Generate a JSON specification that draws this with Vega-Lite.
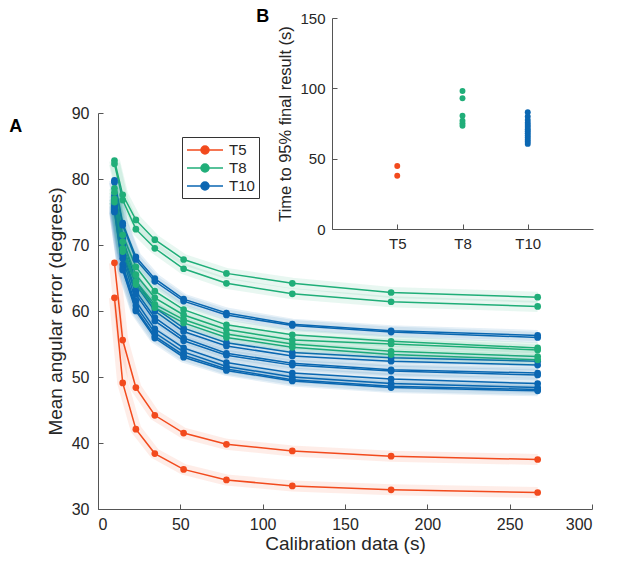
{
  "$schema": "https://vega.github.io/schema/vega-lite/v6.json",
  "width": 494,
  "height": 491,
  "autosize": {"type": "none"},
  "padding": {"left": 98, "top": 18, "right": 30, "bottom": 56},
  "background": "white",
  "config": {
    "view": {"stroke": null},
    "font": "Liberation Sans",
    "axis": {
      "domainColor": "#555555",
      "tickColor": "#555555",
      "labelColor": "#262626",
      "titleColor": "#262626",
      "labelFont": "Liberation Sans",
      "titleFont": "Liberation Sans",
      "titleFontWeight": "normal",
      "grid": false
    },
    "legend": {
      "orient": "none",
      "legendX": 84,
      "legendY": 119,
      "strokeColor": "#333333",
      "padding": 4,
      "labelFont": "Liberation Sans",
      "labelFontSize": 15,
      "labelColor": "#262626",
      "symbolType": "M-1,0H3.5M0.75,0A0.5,0.5,0,1,1,1.75,0A0.5,0.5,0,1,1,0.75,0",
      "symbolSize": 256,
      "symbolStrokeWidth": 1.5,
      "symbolOpacity": 1,
      "rowPadding": 1,
      "labelOffset": 25
    }
  },
  "datasets": {
    "curves": [
      {"g":"T5","id":"R1","x":10,"y":67.3},{"g":"T5","id":"R1","x":15,"y":55.6},{"g":"T5","id":"R1","x":23,"y":48.4},{"g":"T5","id":"R1","x":34.5,"y":44.2},{"g":"T5","id":"R1","x":52,"y":41.5},{"g":"T5","id":"R1","x":78,"y":39.8},{"g":"T5","id":"R1","x":118,"y":38.8},{"g":"T5","id":"R1","x":178,"y":38.0},{"g":"T5","id":"R1","x":267,"y":37.5},
      {"g":"T5","id":"R2","x":10,"y":62.0},{"g":"T5","id":"R2","x":15,"y":49.1},{"g":"T5","id":"R2","x":23,"y":42.1},{"g":"T5","id":"R2","x":34.5,"y":38.4},{"g":"T5","id":"R2","x":52,"y":36.0},{"g":"T5","id":"R2","x":78,"y":34.4},{"g":"T5","id":"R2","x":118,"y":33.5},{"g":"T5","id":"R2","x":178,"y":32.9},{"g":"T5","id":"R2","x":267,"y":32.5},
      {"g":"T10","id":"B1","x":10,"y":79.8},{"g":"T10","id":"B1","x":15,"y":73.3},{"g":"T10","id":"B1","x":23,"y":68.2},{"g":"T10","id":"B1","x":34.5,"y":64.9},{"g":"T10","id":"B1","x":52,"y":61.8},{"g":"T10","id":"B1","x":78,"y":59.7},{"g":"T10","id":"B1","x":118,"y":58.0},{"g":"T10","id":"B1","x":178,"y":57.0},{"g":"T10","id":"B1","x":267,"y":56.3},
      {"g":"T10","id":"B2","x":10,"y":79.5},{"g":"T10","id":"B2","x":15,"y":73.0},{"g":"T10","id":"B2","x":23,"y":67.8},{"g":"T10","id":"B2","x":34.5,"y":64.5},{"g":"T10","id":"B2","x":52,"y":61.5},{"g":"T10","id":"B2","x":78,"y":59.4},{"g":"T10","id":"B2","x":118,"y":57.8},{"g":"T10","id":"B2","x":178,"y":56.8},{"g":"T10","id":"B2","x":267,"y":56.0},
      {"g":"T10","id":"B3","x":10,"y":77.5},{"g":"T10","id":"B3","x":15,"y":71.0},{"g":"T10","id":"B3","x":23,"y":64.5},{"g":"T10","id":"B3","x":34.5,"y":60.5},{"g":"T10","id":"B3","x":52,"y":57.4},{"g":"T10","id":"B3","x":78,"y":55.2},{"g":"T10","id":"B3","x":118,"y":53.7},{"g":"T10","id":"B3","x":178,"y":52.9},{"g":"T10","id":"B3","x":267,"y":52.4},
      {"g":"T10","id":"B4","x":10,"y":77.0},{"g":"T10","id":"B4","x":15,"y":70.0},{"g":"T10","id":"B4","x":23,"y":64.0},{"g":"T10","id":"B4","x":34.5,"y":60.0},{"g":"T10","id":"B4","x":52,"y":56.9},{"g":"T10","id":"B4","x":78,"y":54.7},{"g":"T10","id":"B4","x":118,"y":53.2},{"g":"T10","id":"B4","x":178,"y":52.4},{"g":"T10","id":"B4","x":267,"y":51.8},
      {"g":"T10","id":"B5","x":10,"y":76.5},{"g":"T10","id":"B5","x":15,"y":69.0},{"g":"T10","id":"B5","x":23,"y":63.0},{"g":"T10","id":"B5","x":34.5,"y":59.0},{"g":"T10","id":"B5","x":52,"y":55.9},{"g":"T10","id":"B5","x":78,"y":53.6},{"g":"T10","id":"B5","x":118,"y":52.1},{"g":"T10","id":"B5","x":178,"y":51.1},{"g":"T10","id":"B5","x":267,"y":50.6},
      {"g":"T10","id":"B6","x":10,"y":76.0},{"g":"T10","id":"B6","x":15,"y":68.5},{"g":"T10","id":"B6","x":23,"y":62.5},{"g":"T10","id":"B6","x":34.5,"y":58.5},{"g":"T10","id":"B6","x":52,"y":55.5},{"g":"T10","id":"B6","x":78,"y":53.3},{"g":"T10","id":"B6","x":118,"y":51.8},{"g":"T10","id":"B6","x":178,"y":50.9},{"g":"T10","id":"B6","x":267,"y":50.3},
      {"g":"T10","id":"B7","x":10,"y":75.8},{"g":"T10","id":"B7","x":15,"y":68.0},{"g":"T10","id":"B7","x":23,"y":61.5},{"g":"T10","id":"B7","x":34.5,"y":57.3},{"g":"T10","id":"B7","x":52,"y":54.4},{"g":"T10","id":"B7","x":78,"y":52.2},{"g":"T10","id":"B7","x":118,"y":50.6},{"g":"T10","id":"B7","x":178,"y":49.7},{"g":"T10","id":"B7","x":267,"y":49.0},
      {"g":"T10","id":"B8","x":10,"y":75.5},{"g":"T10","id":"B8","x":15,"y":67.0},{"g":"T10","id":"B8","x":23,"y":60.8},{"g":"T10","id":"B8","x":34.5,"y":56.7},{"g":"T10","id":"B8","x":52,"y":53.8},{"g":"T10","id":"B8","x":78,"y":51.6},{"g":"T10","id":"B8","x":118,"y":50.0},{"g":"T10","id":"B8","x":178,"y":49.0},{"g":"T10","id":"B8","x":267,"y":48.4},
      {"g":"T10","id":"B9","x":10,"y":75.2},{"g":"T10","id":"B9","x":15,"y":66.5},{"g":"T10","id":"B9","x":23,"y":60.3},{"g":"T10","id":"B9","x":34.5,"y":56.2},{"g":"T10","id":"B9","x":52,"y":53.3},{"g":"T10","id":"B9","x":78,"y":51.2},{"g":"T10","id":"B9","x":118,"y":49.6},{"g":"T10","id":"B9","x":178,"y":48.6},{"g":"T10","id":"B9","x":267,"y":48.1},
      {"g":"T10","id":"B10","x":10,"y":75.0},{"g":"T10","id":"B10","x":15,"y":66.2},{"g":"T10","id":"B10","x":23,"y":60.0},{"g":"T10","id":"B10","x":34.5,"y":55.9},{"g":"T10","id":"B10","x":52,"y":53.0},{"g":"T10","id":"B10","x":78,"y":51.0},{"g":"T10","id":"B10","x":118,"y":49.4},{"g":"T10","id":"B10","x":178,"y":48.4},{"g":"T10","id":"B10","x":267,"y":47.9},
      {"g":"T8","id":"G1","x":10,"y":82.8},{"g":"T8","id":"G1","x":15,"y":77.6},{"g":"T8","id":"G1","x":23,"y":73.8},{"g":"T8","id":"G1","x":34.5,"y":70.8},{"g":"T8","id":"G1","x":52,"y":67.8},{"g":"T8","id":"G1","x":78,"y":65.7},{"g":"T8","id":"G1","x":118,"y":64.2},{"g":"T8","id":"G1","x":178,"y":62.8},{"g":"T8","id":"G1","x":267,"y":62.1},
      {"g":"T8","id":"G2","x":10,"y":82.3},{"g":"T8","id":"G2","x":15,"y":76.8},{"g":"T8","id":"G2","x":23,"y":72.4},{"g":"T8","id":"G2","x":34.5,"y":69.5},{"g":"T8","id":"G2","x":52,"y":66.4},{"g":"T8","id":"G2","x":78,"y":64.2},{"g":"T8","id":"G2","x":118,"y":62.6},{"g":"T8","id":"G2","x":178,"y":61.4},{"g":"T8","id":"G2","x":267,"y":60.7},
      {"g":"T8","id":"G3","x":10,"y":78.6},{"g":"T8","id":"G3","x":15,"y":71.5},{"g":"T8","id":"G3","x":23,"y":66.7},{"g":"T8","id":"G3","x":34.5,"y":63.0},{"g":"T8","id":"G3","x":52,"y":60.2},{"g":"T8","id":"G3","x":78,"y":57.9},{"g":"T8","id":"G3","x":118,"y":56.4},{"g":"T8","id":"G3","x":178,"y":55.4},{"g":"T8","id":"G3","x":267,"y":54.4},
      {"g":"T8","id":"G4","x":10,"y":78.0},{"g":"T8","id":"G4","x":15,"y":70.5},{"g":"T8","id":"G4","x":23,"y":65.5},{"g":"T8","id":"G4","x":34.5,"y":62.0},{"g":"T8","id":"G4","x":52,"y":59.4},{"g":"T8","id":"G4","x":78,"y":57.2},{"g":"T8","id":"G4","x":118,"y":55.6},{"g":"T8","id":"G4","x":178,"y":55.0},{"g":"T8","id":"G4","x":267,"y":54.1},
      {"g":"T8","id":"G5","x":10,"y":77.0},{"g":"T8","id":"G5","x":15,"y":69.5},{"g":"T8","id":"G5","x":23,"y":64.5},{"g":"T8","id":"G5","x":34.5,"y":61.0},{"g":"T8","id":"G5","x":52,"y":58.7},{"g":"T8","id":"G5","x":78,"y":56.5},{"g":"T8","id":"G5","x":118,"y":55.0},{"g":"T8","id":"G5","x":178,"y":53.9},{"g":"T8","id":"G5","x":267,"y":53.1},
      {"g":"T8","id":"G6","x":10,"y":76.5},{"g":"T8","id":"G6","x":15,"y":69.0},{"g":"T8","id":"G6","x":23,"y":64.0},{"g":"T8","id":"G6","x":34.5,"y":60.5},{"g":"T8","id":"G6","x":52,"y":58.2},{"g":"T8","id":"G6","x":78,"y":56.0},{"g":"T8","id":"G6","x":118,"y":54.5},{"g":"T8","id":"G6","x":178,"y":53.4},{"g":"T8","id":"G6","x":267,"y":52.6}
    ],
    "times": [
      {"g":"T5","t":44.8},{"g":"T5","t":37.9},
      {"g":"T8","t":98.1},{"g":"T8","t":92.9},{"g":"T8","t":80.5},{"g":"T8","t":77.0},{"g":"T8","t":75.1},{"g":"T8","t":73.4},
      {"g":"T10","t":83.0},{"g":"T10","t":80.0},{"g":"T10","t":77.5},{"g":"T10","t":75.5},{"g":"T10","t":74.0},{"g":"T10","t":72.5},{"g":"T10","t":71.0},{"g":"T10","t":69.5},{"g":"T10","t":68.0},{"g":"T10","t":66.5},{"g":"T10","t":65.0},{"g":"T10","t":63.5},{"g":"T10","t":62.0},{"g":"T10","t":60.5}
    ],
    "panels": [{"label": "A"}, {"label": "B"}]
  },
  "layer": [
    {
      "data": {"name": "curves"},
      "encoding": {
        "x": {
          "field": "x", "type": "quantitative",
          "scale": {"domain": [0, 300], "range": [0, 494], "nice": false, "zero": false},
          "axis": {"values": [0, 50, 100, 150, 200, 250, 300], "title": "Calibration data (s)", "titleFontSize": 19, "labelFontSize": 16, "tickSize": -5, "labelPadding": 12, "titlePadding": 2}
        },
        "y": {
          "field": "y", "type": "quantitative",
          "scale": {"domain": [30, 90], "range": [491, 95], "nice": false, "zero": false},
          "axis": {"values": [30, 40, 50, 60, 70, 80, 90], "title": "Mean angular error (degrees)", "titleFontSize": 19, "labelFontSize": 16, "tickSize": -5, "labelPadding": 14, "titlePadding": 6}
        },
        "color": {
          "field": "g", "type": "nominal",
          "scale": {"domain": ["T5", "T8", "T10"], "range": ["#F24A1D", "#20AE79", "#0B67B2"]},
          "legend": {"title": null}
        },
        "detail": {"field": "id"}
      },
      "layer": [
        {"mark": {"type": "line", "strokeWidth": 1.5}},
        {"mark": {"type": "line", "strokeWidth": 11, "opacity": 0.1}},
        {"mark": {"type": "point", "filled": true, "size": 45, "opacity": 1}}
      ]
    },
    {
      "data": {"name": "times"},
      "mark": {"type": "point", "filled": true, "size": 35, "opacity": 1},
      "encoding": {
        "x": {
          "field": "g", "type": "nominal",
          "scale": {"type": "point", "domain": ["T5", "T8", "T10"], "range": [234, 495], "padding": 1},
          "axis": {"orient": "bottom", "offset": -280, "title": null, "labelAngle": 0, "labelFontSize": 15, "tickSize": -5, "labelPadding": 12}
        },
        "y": {
          "field": "t", "type": "quantitative",
          "scale": {"domain": [0, 150], "range": [211, 0], "nice": false, "zero": false},
          "axis": {"orient": "left", "offset": -234, "values": [0, 50, 100, 150], "title": "Time to 95% final result (s)", "titleFontSize": 16.5, "labelFontSize": 15, "tickSize": -5, "labelPadding": 12, "titlePadding": 6}
        },
        "color": {"field": "g", "type": "nominal"}
      }
    },
    {
      "data": {"name": "panels"},
      "transform": [{"filter": "datum.label == 'A'"}],
      "mark": {"type": "text", "fontSize": 18, "fontWeight": "bold", "font": "Liberation Sans", "color": "#000000"},
      "encoding": {
        "x": {"datum": -50, "type": "quantitative", "scale": {"domain": [0, 300], "range": [0, 494], "nice": false, "zero": false}, "axis": null},
        "y": {"datum": 87.9, "type": "quantitative", "scale": {"domain": [30, 90], "range": [491, 95], "nice": false, "zero": false}, "axis": null},
        "text": {"field": "label"}
      }
    },
    {
      "data": {"name": "panels"},
      "transform": [{"filter": "datum.label == 'B'"}],
      "mark": {"type": "text", "fontSize": 18, "fontWeight": "bold", "font": "Liberation Sans", "color": "#000000"},
      "encoding": {
        "x": {"datum": 100, "type": "quantitative", "scale": {"domain": [0, 300], "range": [0, 494], "nice": false, "zero": false}, "axis": null},
        "y": {"datum": 104.6, "type": "quantitative", "scale": {"domain": [30, 90], "range": [491, 95], "nice": false, "zero": false}, "axis": null},
        "text": {"field": "label"}
      }
    }
  ],
  "resolve": {"scale": {"x": "independent", "y": "independent"}}
}
